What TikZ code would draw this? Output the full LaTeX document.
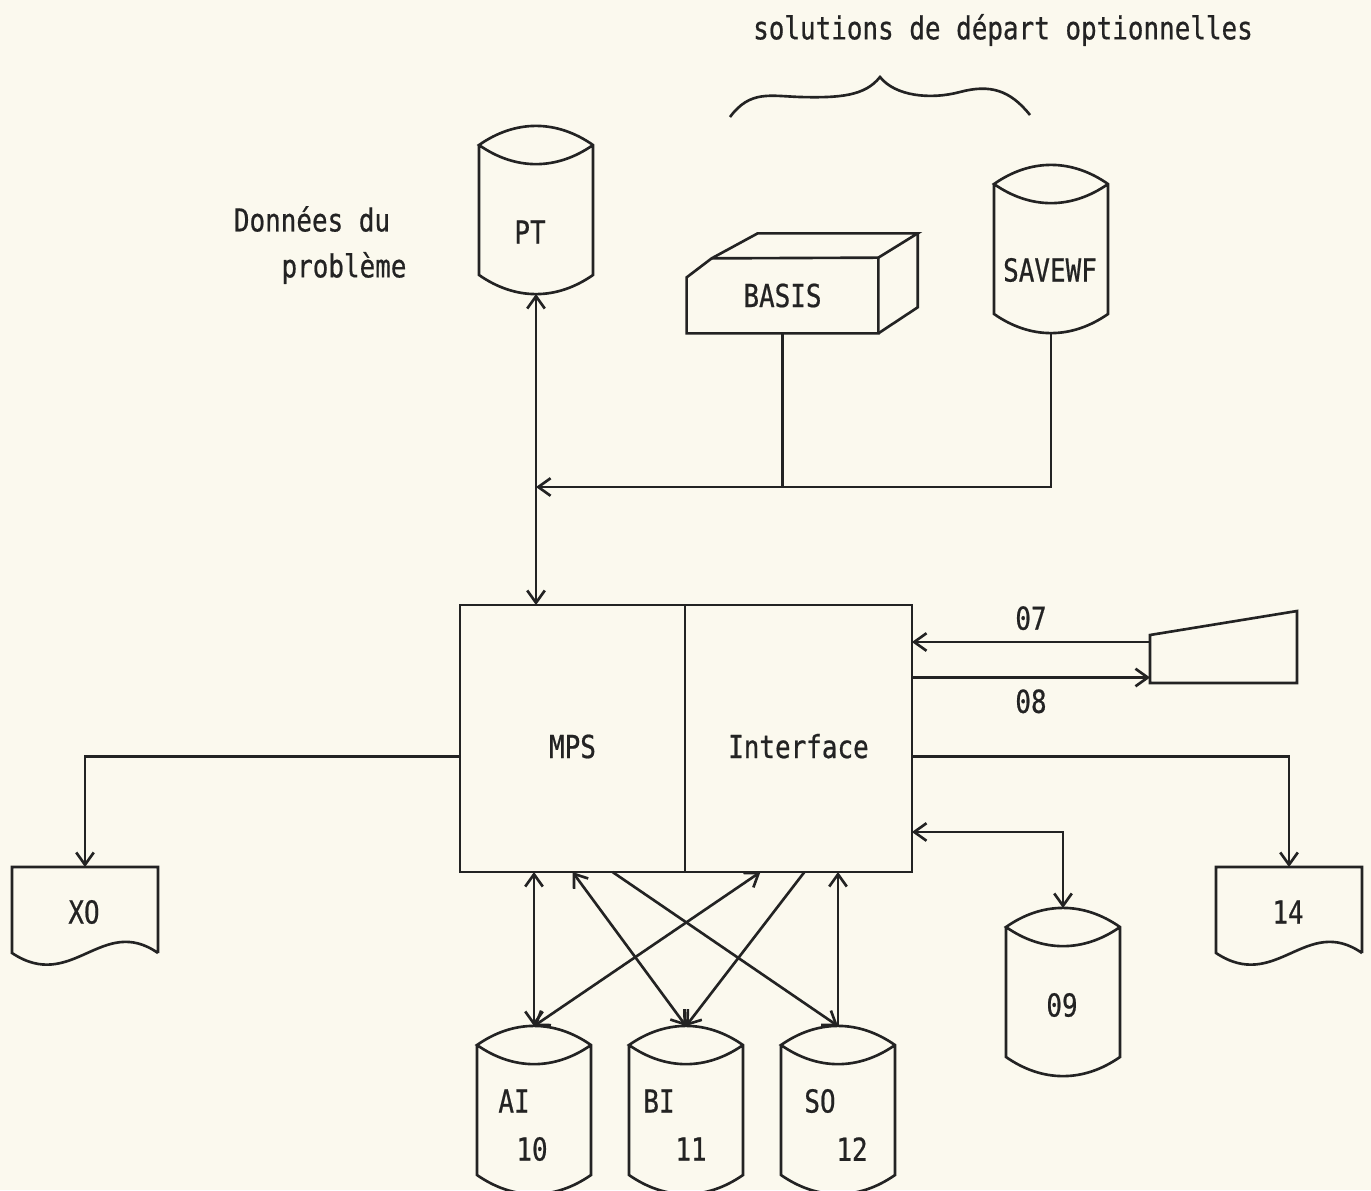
\documentclass[tikz,border=0pt]{standalone}
\usepackage{fontspec}
\setmainfont{DejaVu Sans Mono}[FakeStretch=0.82, FakeBold=0.6]
\usetikzlibrary{calc,arrows.meta,positioning}
\definecolor{inkgray}{RGB}{35,35,35}
\definecolor{paper}{RGB}{251,249,238}

\tikzset{
    ink/.style={draw=inkgray, line width=1.5pt},
    arr/.style={ink, -{Straight Barb[length=7pt,width=10pt]}},
    dblarr/.style={ink, {Straight Barb[length=7pt,width=10pt]}-{Straight Barb[length=7pt,width=10pt]}},
    txt/.style={text=inkgray, inner sep=0pt, font=\fontsize{18}{21}\selectfont},
    disk/.style={minimum width=2.28cm, minimum height=2.6cm, inner sep=0pt, outer sep=0pt},
    docu/.style={minimum width=2.92cm, minimum height=1.72cm, inner sep=0pt, outer sep=0pt},
    blk/.style={ink, txt, minimum height=5.34cm, outer sep=0pt, text height=0.78cm, text depth=0pt},
}

\begin{document}
\begin{tikzpicture}[x=0.02cm, y=-0.02cm]
    \fill[paper, use as bounding box] (0, 0) rectangle (1371, 1190);

    % Title and brace over the optional start files
    \node[txt] (title) at (1003, 30) {solutions de départ optionnelles};
    \draw[ink] (730, 117) .. controls (750, 90) and (770, 96) .. (800, 97)
        .. controls (840, 98) and (865, 96) .. (880, 77)
        .. controls (895, 96) and (930, 100) .. (960, 92)
        .. controls (990, 84) and (1010, 90) .. (1030, 115);

    % Problem data
    \node[txt] (data1) at (312, 219) {Données du};
    \node[txt] (data2) at (344, 268) {problème};

    % Disk files
    \node[disk] (PT) at (536, 210) {};
    \node[disk] (SAVEWF) at (1051, 249) {};
    \node[disk] (D09) at (1063, 992) {};
    \node[disk] (AI) at (534, 1110) {};
    \node[disk] (BI) at (686, 1110) {};
    \node[disk] (SO) at (838, 1110) {};
    \foreach \n in {PT, SAVEWF, D09, AI, BI, SO} {
        \draw[ink] (\n.north west) -- (\n.south west) to[bend right=35] (\n.south east)
            -- (\n.north east) to[bend right=35] (\n.north west) to[bend right=35] (\n.north east);
    }
    \node[txt] (PTlbl) at (530, 232) {PT};
    \node[txt] (SAVlbl) at (1050, 270) {SAVEWF};
    \node[txt] (lbl09) at (1062, 1005) {09};
    \node[txt] (AIa) at (514, 1101) {AI};
    \node[txt] (AIb) at (532, 1149) {10};
    \node[txt] (BIa) at (659, 1101) {BI};
    \node[txt] (BIb) at (691, 1149) {11};
    \node[txt] (SOa) at (820, 1101) {SO};
    \node[txt] (SOb) at (852, 1149) {12};

    % BASIS card box
    \node[txt, minimum width=3.82cm, minimum height=1.5cm] (BASIS) at (782.5, 295.5) {BASIS};
    \draw[ink] (BASIS.south west) -- ++(0, -56) -- ++(25, -19) coordinate (bc)
        -- (BASIS.north east) -- (BASIS.south east) -- cycle;
    \draw[ink] (bc) -- ++(46, -25) -- ++(160, 0) coordinate (be) -- (BASIS.north east);
    \draw[ink] (be) -- ++(0, 74) -- (BASIS.south east);

    % Main program
    \node[blk, minimum width=4.5cm] (MPS) at (572.5, 738.5) {MPS};
    \node[blk, minimum width=4.54cm, right=0pt of MPS] (Interface) {Interface};

    % Terminal
    \node[minimum width=2.94cm, minimum height=1.44cm, inner sep=0pt, outer sep=0pt] (term) at (1223.5, 647) {};
    \draw[ink] (term.south west) -- ++(0, -48) -- (term.north east) -- (term.south east) -- cycle;

    % Printed outputs
    \node[docu] (XO) at (85, 910) {};
    \node[docu] (D14) at (1289, 910) {};
    \foreach \n in {XO, D14} {
        \draw[ink] (\n.south east) -- (\n.north east) -- (\n.north west) -- (\n.south west)
            .. controls +(60, 40) and +(-56, -39) .. (\n.south east);
    }
    \node[txt] (XOlbl) at (84, 912) {XO};
    \node[txt] (lbl14) at (1288, 912) {14};

    % Connections to the top files
    \coordinate (jn) at (536, 487);
    \draw[dblarr] ($(PT.south)+(0, 19)$) -- (PT.south |- MPS.north);
    \draw[arr] ($(SAVEWF.south)+(0, 19)$) |- (jn);
    \draw[ink] (BASIS.south) -- (BASIS.south |- jn);

    % Terminal lines
    \draw[arr] ($(term.south west)+(0, -41)$) coordinate (t07)
        -- node[txt, above=6pt] (l07) {07} (t07 -| Interface.east);
    \draw[arr] ($(Interface.east)+(0, -61)$) coordinate (t08)
        -- node[txt, below=6pt] (l08) {08} (t08 -| term.west);

    % Outputs and 09
    \draw[arr] ($(MPS.west)+(0, 18)$) -| (XO.north);
    \draw[arr] ($(Interface.east)+(0, 18)$) -| (D14.north);
    \draw[dblarr] ($(Interface.south east)+(0, -40)$) -| ($(D09.north)+(0, -19)$);

    % Work files below
    \draw[dblarr] (AI.north |- MPS.south) -- ($(AI.north)+(0, -19)$);
    \draw[dblarr] (MPS.south) -- ($(BI.north)+(0, -19)$);
    \draw[arr] ($(MPS.south)+(40, 0)$) -- ($(SO.north)+(0, -19)$);
    \draw[dblarr] ($(AI.north)+(0, -19)$) -- ($(Interface.south)+(-38, 0)$);
    \draw[arr] ($(Interface.south)+(6, 0)$) -- ($(BI.north)+(0, -19)$);
    \draw[arr] ($(SO.north)+(0, -19)$) -- (SO.north |- Interface.south);
\end{tikzpicture}
\end{document}
